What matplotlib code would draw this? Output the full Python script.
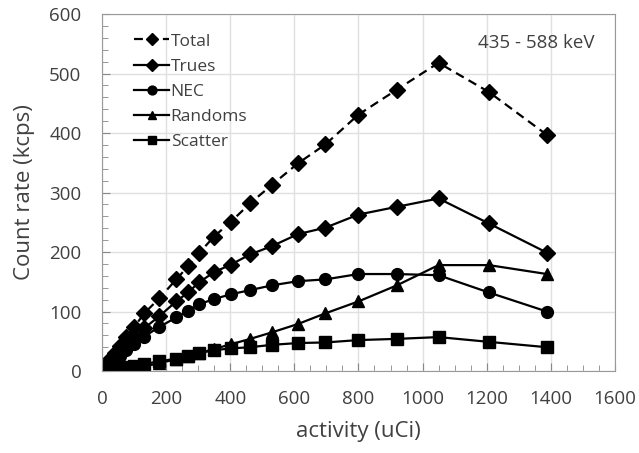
import matplotlib.pyplot as plt
from matplotlib.ticker import MultipleLocator

# Datos
activity = [1388, 1207, 1050, 920, 800, 697, 611, 530, 462, 402, 349, 302,
            268, 231, 178, 131, 100, 75, 55, 40, 28, 18, 10, 4]
total = [397, 469, 518, 473, 431, 381, 349, 313, 282, 251, 226, 198,
         176, 154, 122, 97, 74, 57, 42, 31, 22, 14, 8, 3]
trues = [199, 248, 290, 276, 263, 241, 230, 210, 196, 179, 166, 149,
         132, 117, 92, 72, 56, 43, 32, 23, 16, 10, 6, 2]
nec = [100, 132, 161, 163, 163, 154, 151, 144, 136, 129, 121, 112,
       101, 90, 74, 58, 46, 35, 26, 19, 13, 9, 5, 2]
randoms = [163, 178, 178, 144, 117, 97, 79, 65, 54, 45, 37, 30,
           25, 20, 13, 8, 5, 3, 2, 1, 1, 0, 0, 0]
scatter = [40, 49, 57, 54, 52, 48, 47, 44, 40, 38, 35, 30,
           25, 21, 16, 12, 9, 7, 5, 4, 3, 2, 1, 0]

txt = '#404040'
plt.rcParams['font.family'] = ['Open Sans', 'DejaVu Sans']

fig = plt.figure(figsize=(6.39, 4.53), dpi=100)
ax = fig.add_axes([0.16, 0.181, 0.802, 0.788])

ax.plot(activity, total, 'k--D', lw=1.6, ms=8, label='Total', dashes=(4, 2.5))
ax.plot(activity, trues, 'k-D', lw=1.6, ms=8, label='Trues')
ax.plot(activity, nec, 'k-o', lw=1.6, ms=8.5, label='NEC')
ax.plot(activity, randoms, 'k-^', lw=1.6, ms=8.5, label='Randoms')
ax.plot(activity, scatter, 'k-s', lw=1.6, ms=8, label='Scatter')

ax.set_xlim(0, 1600)
ax.set_ylim(0, 600)
ax.xaxis.set_major_locator(MultipleLocator(200))
ax.xaxis.set_minor_locator(MultipleLocator(50))
ax.yaxis.set_major_locator(MultipleLocator(100))
ax.yaxis.set_minor_locator(MultipleLocator(20))
ax.grid(True, which='major', color='#e0e0e0', lw=1)
ax.set_axisbelow(True)
ax.tick_params(which='both', direction='in', colors='#888888', labelcolor=txt,
               labelsize=13.5)
ax.tick_params(which='major', length=6)
ax.tick_params(which='minor', length=4)
ax.tick_params(axis='x', pad=14)
ax.tick_params(axis='y', pad=15)
for s in ax.spines.values():
    s.set_color('#999999')

ax.set_xlabel('activity (uCi)', fontsize=16, color=txt, labelpad=9)
ax.set_ylabel('Count rate (kcps)', fontsize=16, color=txt, labelpad=10)

ax.text(0.961, 0.919, '435 - 588 keV', transform=ax.transAxes, ha='right',
        va='center', fontsize=13.5, color=txt)

ax.legend(loc='upper left', bbox_to_anchor=(0.042, 0.975), frameon=False,
          handlelength=2.0, handletextpad=0.1, labelspacing=0.52,
          fontsize=12.5, labelcolor=txt, borderaxespad=0.2, markerscale=0.75)

plt.savefig('out.png', dpi=100)
plt.close()
